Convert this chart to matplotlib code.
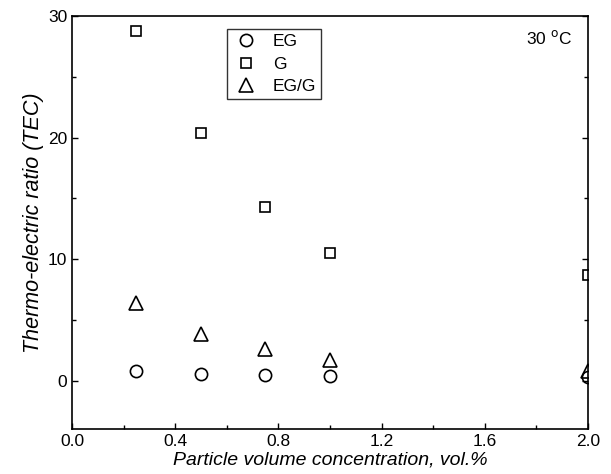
import matplotlib
matplotlib.use("Agg")
import matplotlib.pyplot as plt
from matplotlib.ticker import MultipleLocator

plt.rcParams['font.family'] = ['Liberation Sans', 'DejaVu Sans']

x = [0.25, 0.5, 0.75, 1.0, 2.0]
eg = [0.8, 0.55, 0.45, 0.35, 0.3]
g = [28.8, 20.4, 14.3, 10.5, 8.7]
egg = [6.4, 3.8, 2.6, 1.7, 0.8]

fig = plt.figure(figsize=(6.11, 4.74), dpi=100)
ax = fig.add_axes([0.1178, 0.0943, 0.8446, 0.8719])

ax.plot(x, eg, linestyle='none', marker='o', markersize=8.8, markerfacecolor='none',
        markeredgecolor='black', markeredgewidth=1.2, label='EG')
ax.plot(x, g, linestyle='none', marker='s', markersize=7.6, markerfacecolor='none',
        markeredgecolor='black', markeredgewidth=1.2, label='G')
ax.plot(x, egg, linestyle='none', marker='^', markersize=10.5, markerfacecolor='none',
        markeredgecolor='black', markeredgewidth=1.2, label='EG/G')

ax.set_xlim(0, 2.0)
ax.set_ylim(-4, 30)
ax.xaxis.set_major_locator(MultipleLocator(0.4))
ax.xaxis.set_minor_locator(MultipleLocator(0.2))
ax.yaxis.set_major_locator(MultipleLocator(10))
ax.yaxis.set_minor_locator(MultipleLocator(5))
ax.xaxis.set_major_formatter(matplotlib.ticker.FormatStrFormatter('%.1f'))
ax.tick_params(which='both', direction='in', right=True, top=False, labelsize=12.5, width=1)
ax.tick_params(which='major', length=4)
ax.tick_params(which='minor', length=3)
for s in ax.spines.values():
    s.set_linewidth(1.2)

ax.set_xlabel('Particle volume concentration, vol.%', fontsize=14, style='italic', labelpad=2)
ax.set_ylabel('Thermo-electric ratio (TEC)', fontsize=15.5, style='italic', labelpad=3)

ax.text(0.97, 0.968, r'30 $^{\rm o}$C', transform=ax.transAxes, ha='right', va='top', fontsize=12.5)

leg = ax.legend(loc='upper left', bbox_to_anchor=(0.300, 0.9686), borderaxespad=0,
                frameon=True, fancybox=False,
                edgecolor='black', fontsize=12.5, handletextpad=0.75, borderpad=0.3,
                labelspacing=0.42, handlelength=1.6)
leg.get_frame().set_linewidth(1.0)

fig.savefig('out.png', dpi=100)
